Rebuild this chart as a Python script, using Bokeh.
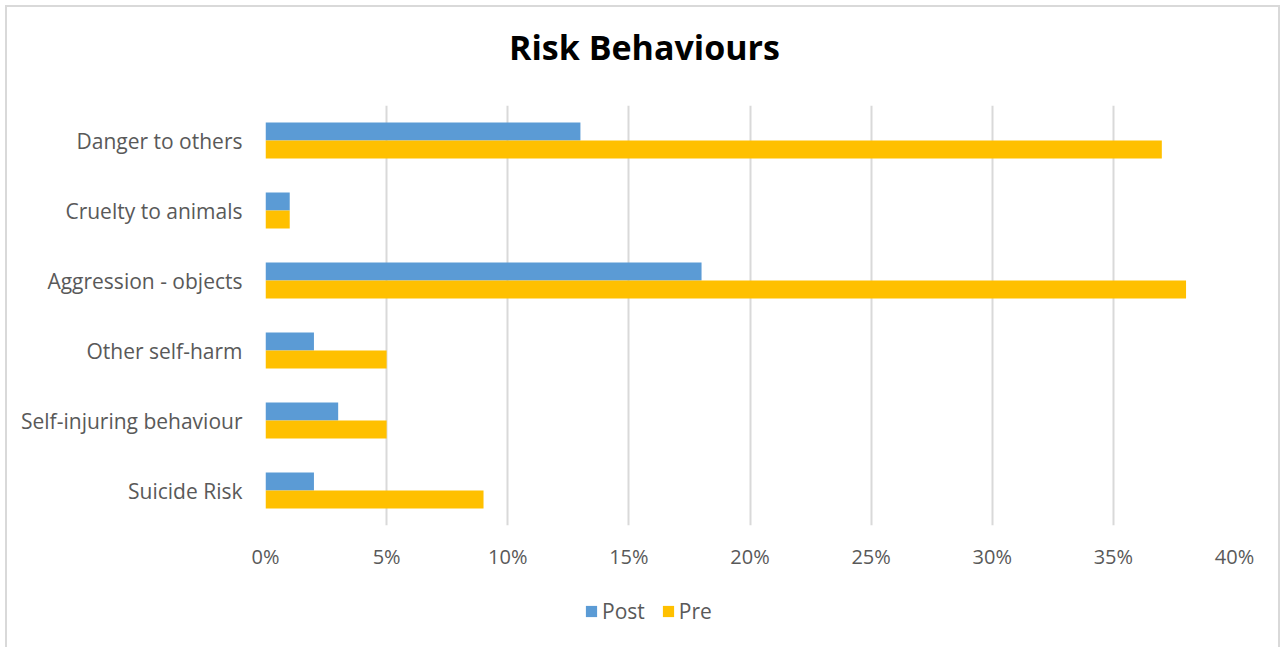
from bokeh.plotting import figure
from bokeh.layouts import column
from bokeh.models import (ColumnDataSource, Range1d, FactorRange, FixedTicker,
                          PrintfTickFormatter, Legend, LegendItem, Label)
from bokeh.transform import dodge
from bokeh.embed import file_html
from bokeh.resources import INLINE

# Risk behaviour categories, listed top to bottom as displayed
categories = [
    "Danger to others",
    "Cruelty to animals",
    "Aggression - objects",
    "Other self-harm",
    "Self-injuring behaviour",
    "Suicide Risk",
]
# Percent of cases showing each behaviour
post_values = [13, 1, 18, 2, 3, 2]
pre_values = [37, 1, 38, 5, 5, 9]
x_ticks = [0, 5, 10, 15, 20, 25, 30, 35, 40]
series_names = ["Post", "Pre"]

POST_COLOR = "#5B9BD5"
PRE_COLOR = "#FFC000"
FONT = "Open Sans"
TEXT_COLOR = "#595959"
BORDER = "2px solid #d9d9d9"
W = 1275
SIDE = dict(min_border_left=258, min_border_right=48)


def strip(height):
    """Axis-less band sharing the chart's horizontal frame."""
    f = figure(width=W, height=height, x_range=Range1d(0, 1), y_range=Range1d(0, 1),
               x_axis_type=None, y_axis_type=None, output_backend="svg",
               toolbar_location=None, min_border_top=0, min_border_bottom=0, **SIDE)
    f.outline_line_color = None
    f.grid.visible = False
    f.margin = (0, 0, 0, 5)
    f.styles = {"border-left": BORDER, "border-right": BORDER}
    return f


# Title band
header = strip(100)
header.margin = (5, 0, 0, 5)
header.styles = {"border-top": BORDER, "border-left": BORDER, "border-right": BORDER}
header.add_layout(Label(
    x=379, y=61, x_units="screen", y_units="screen",
    text="Risk Behaviours", text_align="center", text_baseline="alphabetic",
    text_font=FONT, text_font_size="34px", text_font_style="bold", text_color="black",
))

# Main bar chart
source = ColumnDataSource(data=dict(cat=categories, post=post_values, pre=pre_values))
p = figure(
    width=W, height=476,
    y_range=FactorRange(factors=list(reversed(categories))),
    x_range=Range1d(0, 40),
    output_backend="svg", toolbar_location=None,
    min_border_top=0, min_border_bottom=56, **SIDE,
)
p.margin = (0, 0, 0, 5)
p.styles = {"border-left": BORDER, "border-right": BORDER}
p.outline_line_color = None

bar_h = 0.257
post_r = p.hbar(y=dodge("cat", 0.1286, range=p.y_range), right="post", left=0,
                height=bar_h, source=source, fill_color=POST_COLOR, line_color=None)
pre_r = p.hbar(y=dodge("cat", -0.1286, range=p.y_range), right="pre", left=0,
               height=bar_h, source=source, fill_color=PRE_COLOR, line_color=None)

# Grid: vertical lines only
p.ygrid.grid_line_color = None
p.xgrid.grid_line_color = "#d9d9d9"
p.xgrid.grid_line_width = 2
p.xgrid.ticker = FixedTicker(ticks=x_ticks)

p.xaxis.ticker = FixedTicker(ticks=x_ticks)
p.xaxis.formatter = PrintfTickFormatter(format="%d%%")
for ax in (p.xaxis[0], p.yaxis[0]):
    ax.axis_line_color = None
    ax.major_tick_line_color = None
    ax.minor_tick_line_color = None
    ax.major_tick_in = 0
    ax.major_tick_out = 0
    ax.major_label_text_font = FONT
    ax.major_label_text_color = TEXT_COLOR
p.xaxis.major_label_text_font_size = "20px"
p.yaxis.major_label_text_font_size = "21px"
p.xaxis.major_label_standoff = 17
p.yaxis.major_label_standoff = 23

# Legend band: zero-size swatch renderers carry the series colours
footer = strip(66)
post_key = footer.hbar(y=[0.5], left=[0], right=[0], height=0,
                       fill_color=POST_COLOR, line_color=None)
pre_key = footer.hbar(y=[0.5], left=[0], right=[0], height=0,
                      fill_color=PRE_COLOR, line_color=None)
legend = Legend(
    items=[LegendItem(label=series_names[0], renderers=[post_key]),
           LegendItem(label=series_names[1], renderers=[pre_key])],
    orientation="horizontal",
    location=(319, 22),
    glyph_width=14, glyph_height=14,
    label_text_font=FONT, label_text_font_size="21px", label_text_color=TEXT_COLOR,
    label_standoff=4, spacing=16, padding=0, margin=0,
    border_line_color=None, background_fill_alpha=0,
)
footer.add_layout(legend, "center")

open("out.html", "w").write(file_html(column(header, p, footer, spacing=0), INLINE))
